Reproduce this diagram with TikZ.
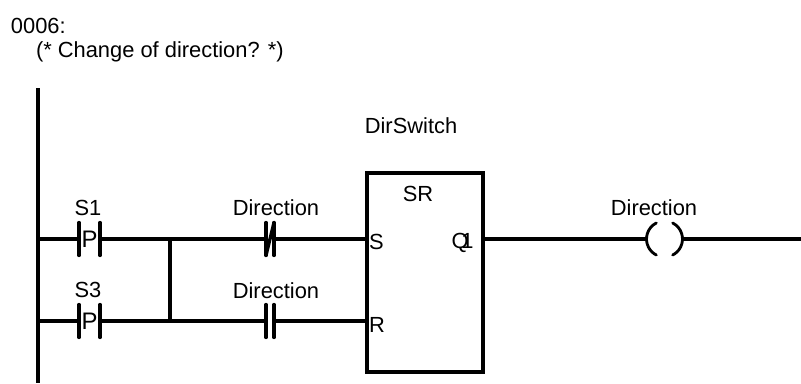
\documentclass[tikz,border=0pt]{standalone}
\usepackage{fontspec}
\setmainfont{Liberation Sans}
\begin{document}
\begin{tikzpicture}[scale=0.2]
\tikzstyle{every node}+=[inner sep=0pt,outer sep=0pt,font=\fontsize{12.45}{14}\selectfont]
\tikzstyle{wire}=[black,line width=2pt]
\tikzstyle{bar}=[black,line width=1.9pt,line cap=round]
\tikzstyle{contact}=[minimum width=0.42cm,minimum height=0.66cm,font=\fontsize{13.6}{14}\selectfont]
\tikzstyle{thincontact}=[minimum width=0.16cm,minimum height=0.66cm]
\tikzstyle{coilnode}=[circle,minimum size=0.72cm]
\useasboundingbox (0,0) rectangle (80.1,-38.3);
\coordinate (railtop) at (3.8,-8.8);
\coordinate (railbot) at (3.8,-38.3);
\coordinate (r1) at (3.8,-23.9);
\coordinate (r2) at (3.8,-32.1);
\coordinate (j1) at (17,-23.9);
\coordinate (j2) at (17,-32.1);
\coordinate (lineend) at (80.1,-23.9);
\draw (1.1,-2.55) node [anchor=west] (title) {0006:};
\draw (3.6,-5.15) node [anchor=west] (comment) {(* Change of direction? *)};
\node [contact] (s1) at (8.95,-23.9) {P};
\node [contact] (s3) at (8.95,-32.1) {P};
\node [thincontact] (dir1) at (27,-23.9) {};
\node [thincontact] (dir2) at (27,-32.1) {};
\node [draw,wire,minimum width=2.32cm,minimum height=3.98cm] (block) at (42.5,-27.25) {};
\node [coilnode] (coil) at (66.45,-23.9) {};
\draw (8.8,-20.8) node (lblS1) {S1};
\draw (8.8,-29) node (lblS3) {S3};
\draw (27.6,-20.8) node (lblDir1) {Direction};
\draw (27.6,-29.1) node (lblDir2) {Direction};
\draw (65.4,-20.8) node (lblCoil) {Direction};
\draw (41.1,-12.6) node (lblBlock) {DirSwitch};
\draw (41.8,-19.4) node (lblSR) {SR};
\draw (36.9,-24.2) node [anchor=west] (pinS) {S};
\draw (36.9,-32.5) node [anchor=west] (pinR) {R};
\draw (46.25,-24.3) node (pinQ) {Q\kern-4.2pt 1};
\draw [wire] (railtop) -- (railbot);
\draw [wire] (r1) -- (s1.west);
\draw [wire] (r2) -- (s3.west);
\draw [bar] (s1.north west) -- (s1.south west);
\draw [bar] (s1.north east) -- (s1.south east);
\draw [bar] (s3.north west) -- (s3.south west);
\draw [bar] (s3.north east) -- (s3.south east);
\draw [wire] ([xshift=0.6mm]s1.east) -- (j1);
\draw [wire] ([xshift=0.6mm]s3.east) -- (j2);
\draw [wire] (j1) -- (j2);
\draw [wire] (j1) -- (dir1.west);
\draw [wire] (j2) -- (dir2.west);
\draw [bar] (dir1.north west) -- (dir1.south west);
\draw [bar] (dir1.north east) -- (dir1.south east);
\draw [bar] (dir1.south west) -- (dir1.north east);
\draw [bar] (dir2.north west) -- (dir2.south west);
\draw [bar] (dir2.north east) -- (dir2.south east);
\draw [wire] ([xshift=0.6mm]dir1.east) -- (dir1 -| block.west);
\draw [wire] ([xshift=0.6mm]dir2.east) -- (dir2 -| block.west);
\draw [wire] (coil -| block.east) -- (coil.west);
\draw [bar,line width=1.6pt] (coil.117) arc (117:243:1.8);
\draw [bar,line width=1.6pt] (coil.63) arc (63:-63:1.8);
\draw [wire] (coil.east) -- (lineend);
\end{tikzpicture}
\end{document}
